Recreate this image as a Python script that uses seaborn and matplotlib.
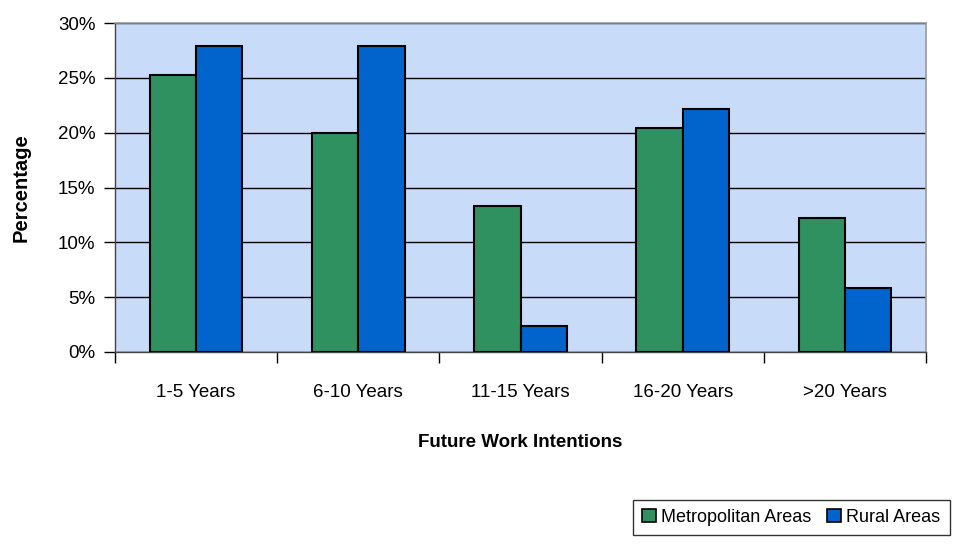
import matplotlib
matplotlib.use("Agg")
import matplotlib.pyplot as plt
import seaborn as sns
import pandas as pd
from matplotlib.ticker import FuncFormatter
from matplotlib.patches import Patch

categories = ["1-5 Years", "6-10 Years", "11-15 Years", "16-20 Years", ">20 Years"]
series_names = ["Metropolitan Areas", "Rural Areas"]
metro = [25.3, 20.0, 13.3, 20.4, 12.2]
rural = [27.9, 27.9, 2.4, 22.2, 5.8]
yticks = [0, 5, 10, 15, 20, 25, 30]

sns.set_style("white")
plt.rcParams["font.family"] = ["Liberation Sans", "DejaVu Sans"]
plt.rcParams["text.color"] = "black"
plt.rcParams["axes.labelcolor"] = "black"
plt.rcParams["xtick.color"] = "black"
plt.rcParams["ytick.color"] = "black"

df = pd.DataFrame({
    "cat": categories * 2,
    "val": metro + rural,
    "series": [series_names[0]] * len(categories) + [series_names[1]] * len(categories),
})

fig = plt.figure(figsize=(9.61, 5.45), dpi=100)
ax = fig.add_axes([115 / 961, 1 - 352 / 545, (926 - 115) / 961, (352 - 23) / 545])
ax.set_facecolor("#C8DCFA")

palette = {series_names[0]: "#2F9060", series_names[1]: "#0064CC"}
sns.barplot(data=df, x="cat", y="val", hue="series", palette=palette, width=0.57,
            edgecolor="black", linewidth=1.5, saturation=1, ax=ax, legend=False, zorder=3)

ax.set_ylim(0, 30)
ax.set_xlim(-0.5, 4.5)
ax.set_yticks(yticks)
ax.yaxis.set_major_formatter(FuncFormatter(lambda v, p: f"{int(v)}%"))
ax.grid(axis="y", color="black", linewidth=1, zorder=1)
ax.set_axisbelow(True)
for s in ["top", "right"]:
    ax.spines[s].set_color("#999999")
    ax.spines[s].set_linewidth(1.2)
for s in ["left", "bottom"]:
    ax.spines[s].set_color("#444444")
    ax.spines[s].set_linewidth(1)

ax.tick_params(axis="y", left=True, direction="out", length=8, width=1, color="black",
               labelsize=13.5, pad=6, labelcolor="black")
ax.set_xticks(range(len(categories)))
ax.set_xticklabels(categories)
ax.tick_params(axis="x", which="major", bottom=True, length=0, labelsize=13.5, pad=23,
               labelcolor="black")
ax.set_xticks([i - 0.5 for i in range(len(categories) + 1)], minor=True)
ax.tick_params(axis="x", which="minor", bottom=True, direction="out", length=8, width=1,
               color="black")

ax.set_xlabel("Future Work Intentions", fontsize=13.5, fontweight="bold", labelpad=24)
ax.set_ylabel("Percentage", fontsize=14.5, fontweight="bold", labelpad=20)

handles = [Patch(facecolor=palette[n], edgecolor="black", linewidth=1.2) for n in series_names]
leg = fig.legend(handles, series_names, loc="upper left",
                 bbox_to_anchor=(633 / 961, 1 - 500 / 545), ncol=2, frameon=True,
                 fancybox=False, edgecolor="black", fontsize=13, handlelength=0.75,
                 handleheight=0.75, handletextpad=0.3, columnspacing=0.9,
                 borderpad=0.5, borderaxespad=0)
leg.get_frame().set_linewidth(1)

fig.savefig("out.png", dpi=100)
